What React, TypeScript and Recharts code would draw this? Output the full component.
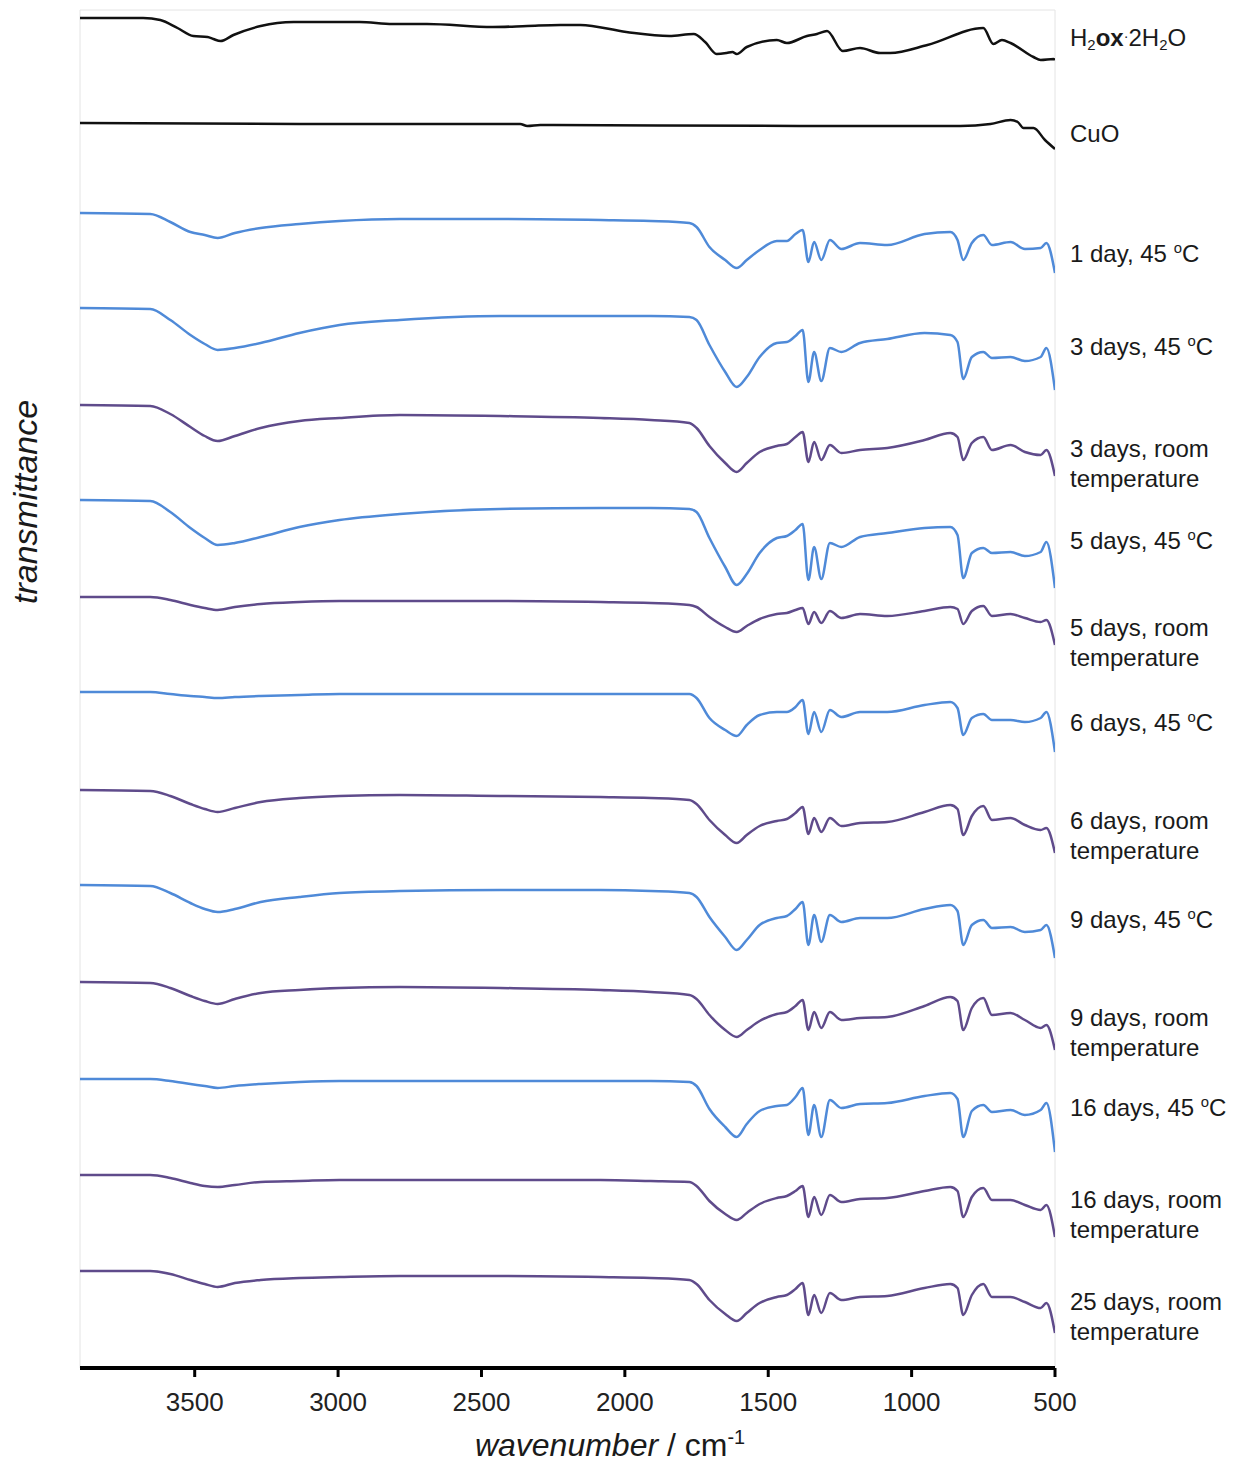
import React from 'react';
import { LineChart, Line, XAxis, YAxis, ReferenceArea } from 'recharts';

// Shared wavenumber grid (cm-1) for the copper oxalate spectra
const wavenumbers = [3900, 3655, 3585, 3515, 3465, 3420, 3360, 3270, 3135, 2995, 2785, 2435, 2085, 1910, 1775, 1750, 1705, 1650, 1610, 1575, 1530, 1470, 1435, 1405, 1380, 1360, 1340, 1315, 1285, 1245, 1180, 1085, 955, 865, 840, 820, 790, 750, 720, 655, 605, 550, 530, 500];

// Relative transmittance of each trace (relative to its start at 3900 cm-1)
const day1_45 = [0, -1, -9, -19, -22, -25, -20, -15, -11, -8, -6, -6, -7, -8, -10, -14, -34, -47, -55, -47, -37, -28, -28, -21, -17, -49, -29, -47, -27, -36, -30, -32, -21, -19, -27, -47, -30, -22, -32, -29, -36, -35, -30, -60];
const day3_45 = [0, -1, -12, -27, -36, -42, -40, -35, -25, -17, -12, -8, -8, -8, -9, -12, -37, -64, -79, -69, -49, -35, -34, -28, -22, -74, -44, -73, -40, -44, -35, -31, -25, -27, -34, -71, -49, -44, -50, -49, -53, -49, -40, -82];
const day3_rt = [0, -1, -9, -22, -31, -36, -31, -23, -16, -13, -10, -11, -13, -15, -18, -23, -41, -58, -67, -58, -47, -41, -39, -32, -27, -57, -37, -55, -40, -48, -45, -43, -35, -28, -32, -55, -38, -32, -45, -40, -47, -50, -45, -71];
const day5_45 = [0, -1, -12, -28, -38, -45, -43, -37, -27, -20, -14, -9, -8, -8, -9, -12, -38, -67, -85, -74, -53, -38, -36, -30, -24, -80, -47, -79, -43, -47, -37, -33, -28, -27, -35, -78, -53, -48, -53, -52, -56, -52, -42, -88];
const day5_rt = [0, 0, -3, -8, -11, -13, -10, -7, -5, -4, -4, -4, -5, -6, -8, -10, -20, -30, -35, -29, -22, -17, -16, -13, -11, -27, -15, -26, -14, -21, -17, -19, -14, -10, -12, -27, -14, -9, -19, -17, -21, -25, -23, -48];
const day6_45 = [0, 0, -2, -4, -5, -6, -5, -4, -3, -2, -2, -2, -2, -2, -2, -6, -26, -38, -44, -33, -23, -20, -20, -15, -8, -42, -20, -40, -18, -25, -20, -20, -13, -10, -16, -43, -26, -22, -28, -28, -30, -26, -20, -60];
const day6_rt = [0, -1, -6, -14, -19, -22, -18, -12, -8, -6, -5, -6, -7, -8, -10, -14, -30, -45, -53, -45, -36, -31, -29, -23, -17, -44, -28, -42, -28, -36, -33, -32, -22, -15, -19, -45, -26, -16, -30, -28, -35, -40, -38, -63];
const day9_45 = [0, -1, -8, -18, -24, -27, -24, -17, -12, -8, -6, -5, -5, -6, -8, -12, -32, -52, -65, -55, -40, -33, -31, -24, -17, -60, -30, -57, -30, -37, -33, -33, -24, -20, -26, -60, -40, -35, -43, -42, -47, -45, -40, -73];
const day9_rt = [0, -1, -6, -14, -19, -22, -17, -11, -8, -6, -5, -6, -8, -10, -13, -17, -33, -48, -55, -48, -39, -32, -30, -24, -18, -48, -30, -46, -30, -38, -36, -35, -24, -15, -19, -48, -26, -16, -33, -31, -38, -46, -43, -68];
const day16_45 = [0, 0, -2, -5, -7, -9, -7, -5, -3, -2, -2, -2, -2, -2, -3, -7, -30, -48, -58, -45, -32, -27, -26, -18, -9, -56, -26, -58, -21, -29, -25, -24, -17, -14, -20, -58, -32, -26, -33, -31, -36, -31, -24, -73];
const day16_rt = [0, 0, -3, -8, -11, -12, -10, -7, -6, -5, -5, -5, -5, -6, -7, -11, -26, -39, -45, -38, -29, -23, -21, -16, -11, -42, -22, -40, -20, -27, -24, -23, -16, -12, -16, -42, -22, -13, -25, -25, -30, -35, -30, -62];
const day25_rt = [0, 0, -3, -9, -13, -16, -12, -9, -7, -6, -5, -5, -6, -7, -9, -13, -29, -43, -50, -42, -32, -26, -24, -18, -12, -44, -24, -42, -22, -29, -26, -25, -17, -13, -17, -44, -24, -13, -26, -26, -31, -37, -32, -62];

// Oxalic acid dihydrate reference spectrum
const oxWavenumbers = [3900, 3680, 3620, 3560, 3505, 3455, 3435, 3410, 3365, 3270, 3155, 2925, 2810, 2690, 2460, 2340, 2225, 2155, 1995, 1845, 1760, 1720, 1680, 1645, 1625, 1610, 1575, 1470, 1435, 1365, 1330, 1295, 1240, 1180, 1110, 1075, 945, 750, 715, 685, 655, 575, 550, 505, 500];
const oxValues = [0, 0, -2, -10, -18, -19, -21, -23, -17, -8, -4, -4, -6, -6, -9, -8, -7, -7, -14, -18, -16, -24, -36, -35, -34, -36, -29, -22, -25, -18, -16, -13, -33, -30, -35, -35, -27, -10, -26, -22, -25, -39, -42, -41, -42];

// Copper(II) oxide reference spectrum
const cuoWavenumbers = [3900, 3135, 2365, 2340, 2295, 1390, 830, 725, 655, 630, 610, 575, 535, 500];
const cuoValues = [0, -1, -1, -3, -2, -3, -3, -1, 3, 1, -5, -5, -17, -26];

// Series names (top to bottom), vertical stacking offsets and colours
const seriesNames = ['H2ox·2H2O', 'CuO', '1 day, 45 °C', '3 days, 45 °C', '3 days, room temperature', '5 days, 45 °C', '5 days, room temperature', '6 days, 45 °C', '6 days, room temperature', '9 days, 45 °C', '9 days, room temperature', '16 days, 45 °C', '16 days, room temperature', '25 days, room temperature'];
const stackOffsets = [1350, 1245, 1155, 1060, 963, 868, 771, 676, 578, 483, 386, 289, 193, 97];
const xTicks = [3500, 3000, 2500, 2000, 1500, 1000, 500];

const BLACK = '#111111';
const BLUE = '#4f8ad8';
const PURPLE = '#5f4b8b';

const seriesValues = [oxValues, cuoValues, day1_45, day3_45, day3_rt, day5_45, day5_rt, day6_45, day6_rt, day9_45, day9_rt, day16_45, day16_rt, day25_rt];
const seriesWn = [oxWavenumbers, cuoWavenumbers];

const series = seriesNames.map((name, i) => {
  const wn = i < 2 ? seriesWn[i] : wavenumbers;
  const vals = seriesValues[i];
  const color = i < 2 ? BLACK : name.includes('45') ? BLUE : PURPLE;
  return {
    name,
    color,
    data: wn.map((w, j) => ({ wn: w, t: stackOffsets[i] + vals[j] })),
  };
});

const labelTops = [38, 134, 254, 347, 449, 541, 628, 723, 821, 920, 1018, 1108, 1200, 1302];

const supStyle: React.CSSProperties = { fontSize: '0.62em', position: 'relative', top: '-0.6em' };
const subStyle: React.CSSProperties = { fontSize: '0.62em', position: 'relative', top: '0.3em' };

function withDegree(s: string) {
  const idx = s.indexOf('°C');
  if (idx < 0) return s;
  return (
    <>
      {s.slice(0, idx)}
      <span style={supStyle}>o</span>C{s.slice(idx + 2)}
    </>
  );
}

function renderName(name: string) {
  if (name.startsWith('H2ox')) {
    return (
      <div>
        H<span style={subStyle}>2</span>
        <b>ox</b>
        <span style={{ fontSize: '0.6em', position: 'relative', top: '-0.35em' }}>·</span>2H<span style={subStyle}>2</span>O
      </div>
    );
  }
  const parts = name.split(' room ');
  if (parts.length === 2) {
    return (
      <>
        <div>{parts[0]} room</div>
        <div>temperature</div>
      </>
    );
  }
  return <div>{withDegree(name)}</div>;
}

export default function App() {
  const font = '"Liberation Sans", Arial, sans-serif';
  return (
    <div style={{ position: 'absolute', left: 0, top: 0, width: 1233, height: 1462, background: '#fff', fontFamily: font }}>
      <LineChart width={1233} height={1462} margin={{ top: 10, right: 178, bottom: 0, left: 80 }}>
        <XAxis
          type="number"
          dataKey="wn"
          domain={[500, 3900]}
          reversed
          ticks={xTicks}
          allowDataOverflow
          height={94}
          tickSize={9}
          tickMargin={16}
          axisLine={{ stroke: '#000', strokeWidth: 4 }}
          tickLine={{ stroke: '#000', strokeWidth: 3 }}
          tick={{ fontSize: 26, fill: '#222', fontFamily: font }}
        />
        <YAxis type="number" domain={[0, 1358]} hide />
        <ReferenceArea x1={3900} x2={500} y1={0} y2={1358} fill="none" stroke="#e4e4e4" strokeWidth={1} />
        {series.map((s) => (
          <Line
            key={s.name}
            data={s.data}
            dataKey="t"
            name={s.name}
            type="monotone"
            stroke={s.color}
            strokeWidth={2.5}
            dot={false}
            activeDot={false}
            isAnimationActive={false}
          />
        ))}
      </LineChart>
      {seriesNames.map((n, i) => (
        <div
          key={n}
          style={{ position: 'absolute', left: 1070, top: labelTops[i] - 15, fontSize: 24, lineHeight: '30px', color: '#1a1a1a', whiteSpace: 'nowrap' }}
        >
          {renderName(n)}
        </div>
      ))}
      <div
        style={{ position: 'absolute', left: 25, top: 502, transform: 'translate(-50%, -50%) rotate(-90deg)', fontSize: 34, fontStyle: 'italic', color: '#1a1a1a', whiteSpace: 'nowrap' }}
      >
        transmittance
      </div>
      <div
        style={{ position: 'absolute', left: 610, top: 1445, transform: 'translate(-50%, -50%)', fontSize: 32, color: '#1a1a1a', whiteSpace: 'nowrap' }}
      >
        <i>wavenumber</i> / cm<span style={{ fontSize: '0.62em', position: 'relative', top: '-0.6em' }}>-1</span>
      </div>
    </div>
  );
}
